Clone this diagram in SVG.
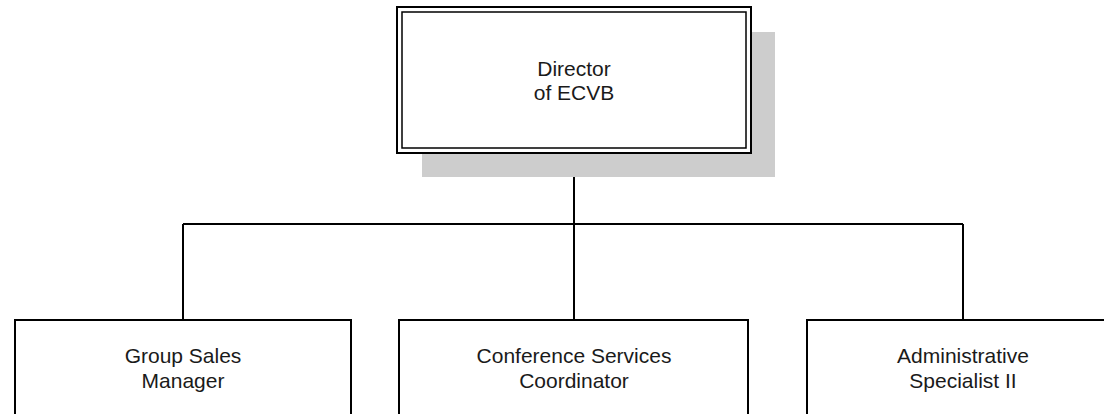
<svg xmlns="http://www.w3.org/2000/svg" width="1104" height="414" viewBox="0 0 1104 414">
<style>
.box{fill:#fff;stroke:#000;stroke-width:2}
.inner{fill:none;stroke:#000;stroke-width:1.5}
.shadow{fill:#cdcdcd}
.lbl{font-family:"Liberation Sans",Arial,sans-serif;font-size:21px;fill:#1a1a1a;text-anchor:middle}
.conn{fill:none;stroke:#000;stroke-width:2}
</style>
<rect width="1104" height="414" fill="#fff"/>
<g id="connectors">
<path class="conn" d="M574 153V224M183 224H963M183 224V320M574 224V320M963 224V320"/>
</g>
<g id="director">
<rect class="shadow" x="422" y="32" width="353" height="145"/>
<rect class="box" x="397" y="7" width="354" height="146"/>
<rect class="inner" x="402" y="12" width="344" height="136"/>
<text class="lbl" x="574" y="76">Director</text>
<text class="lbl" x="574" y="100">of ECVB</text>
</g>
<g id="group-sales">
<rect class="box" x="15" y="320" width="336" height="110"/>
<text class="lbl" x="183" y="363">Group Sales</text>
<text class="lbl" x="183" y="388">Manager</text>
</g>
<g id="conference">
<rect class="box" x="399" y="320" width="349" height="110"/>
<text class="lbl" x="574" y="363">Conference Services</text>
<text class="lbl" x="574" y="388">Coordinator</text>
</g>
<g id="admin">
<rect class="box" x="807" y="320" width="312" height="110"/>
<text class="lbl" x="963" y="363">Administrative</text>
<text class="lbl" x="963" y="388">Specialist II</text>
</g>
</svg>
